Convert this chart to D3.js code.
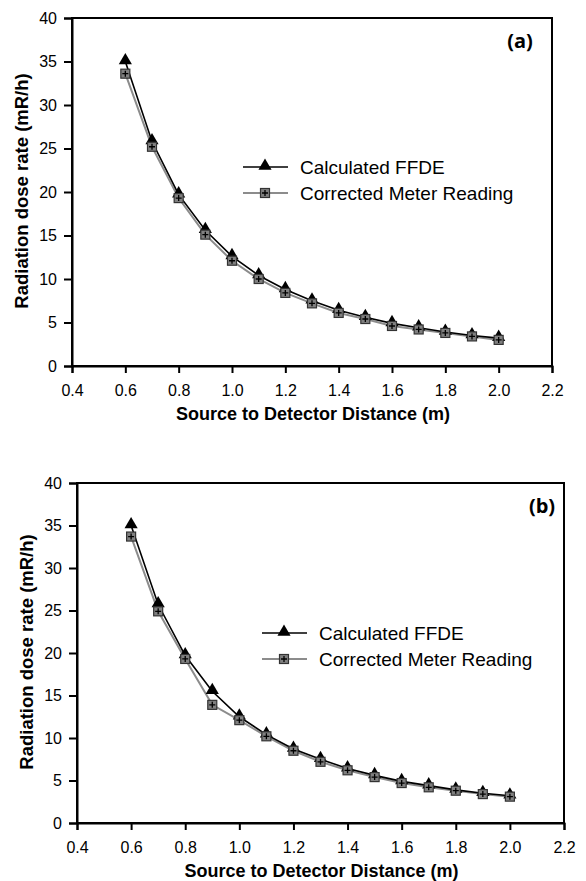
<!DOCTYPE html>
<meta charset='utf-8'>
<style>
  body { margin: 0; background: #fff; font-family: Arial, 'Liberation Sans', sans-serif; }
  .axisTitle { font-size: 18px; font-weight: bold; }
  .yTitle { font-size: 18.5px; font-weight: bold; }
  .legendText { font-size: 19px; }
  .panelLabel { font-size: 20px; font-weight: bold; font-family: 'Open Sans', Arial, sans-serif; }
</style>
<body>
<div id='viz'></div>
<script src='https://cdnjs.cloudflare.com/ajax/libs/d3/7.8.5/d3.min.js'></script>
<script>

// distances (m)
var distances = [0.6, 0.7, 0.8, 0.9, 1.0, 1.1, 1.2, 1.3, 1.4, 1.5, 1.6, 1.7, 1.8, 1.9, 2.0];

// panel (a)
var calcA = [35.0, 25.8, 19.7, 15.6, 12.6, 10.4, 8.8, 7.5, 6.4, 5.6, 4.9, 4.4, 3.9, 3.5, 3.2];
var corrA = [33.6, 25.2, 19.3, 15.1, 12.1, 10.0, 8.4, 7.2, 6.1, 5.4, 4.6, 4.2, 3.8, 3.4, 3.0];

// panel (b)
var calcB = [35.0, 25.7, 19.7, 15.5, 12.5, 10.4, 8.7, 7.5, 6.4, 5.6, 4.9, 4.4, 3.9, 3.5, 3.2];
var corrB = [33.7, 24.9, 19.3, 13.9, 12.1, 10.2, 8.5, 7.2, 6.2, 5.4, 4.7, 4.2, 3.8, 3.4, 3.1];

var xTicks = [0.4, 0.6, 0.8, 1.0, 1.2, 1.4, 1.6, 1.8, 2.0, 2.2];
var yTicks = [0, 5, 10, 15, 20, 25, 30, 35, 40];
var seriesNames = ['Calculated FFDE', 'Corrected Meter Reading'];

var svg = d3.select('#viz').append('svg')
    .attr('width', 586)
    .attr('height', 881);

function drawPanel(p) {
  var x = d3.scaleLinear().domain([0.4, 2.2]).range([p.left, p.right]);
  var y = d3.scaleLinear().domain([0, 40]).range([p.bottom, p.top]);
  var g = svg.append('g');

  // frame (top and right borders)
  g.append('rect')
    .attr('x', p.left).attr('y', p.top)
    .attr('width', p.right - p.left).attr('height', p.bottom - p.top)
    .attr('fill', 'none').attr('stroke', '#000').attr('stroke-width', 2);

  var ax = g.append('g')
    .attr('transform', 'translate(0,' + p.bottom + ')')
    .call(d3.axisBottom(x).tickValues(xTicks).tickFormat(d3.format('.1f')).tickSize(7).tickPadding(12));
  var ay = g.append('g')
    .attr('transform', 'translate(' + p.left + ',0)')
    .call(d3.axisLeft(y).tickValues(yTicks).tickSize(8).tickPadding(7));
  [ax, ay].forEach(function(a) {
    a.select('.domain').attr('stroke-width', 2);
    a.selectAll('.tick line').attr('stroke-width', 2);
    a.selectAll('.tick text')
      .style('font-family', 'Arial, sans-serif')
      .style('font-size', '16px')
      .attr('fill', '#000');
  });

  g.append('text').attr('class', 'axisTitle')
    .attr('x', (p.left + p.right) / 2 + 1).attr('y', p.bottom + 54)
    .attr('text-anchor', 'middle')
    .text('Source to Detector Distance (m)');
  g.append('text').attr('class', 'yTitle')
    .attr('transform', 'translate(' + (p.left - 44) + ',' + ((p.top + p.bottom) / 2 - 1) + ') rotate(-90)')
    .attr('text-anchor', 'middle')
    .text('Radiation dose rate (mR/h)');

  g.append('text').attr('class', 'panelLabel')
    .attr('x', p.labelX).attr('y', p.top + 30)
    .attr('text-anchor', 'middle')
    .text(p.label);

  var line = d3.line()
    .x(function(d) { return x(d[0]); })
    .y(function(d) { return y(d[1]); });

  var calc = distances.map(function(d, i) { return [d, p.calc[i]]; });
  var corr = distances.map(function(d, i) { return [d, p.corr[i]]; });

  g.append('path').datum(corr)
    .attr('fill', 'none').attr('stroke', '#8c8c8c').attr('stroke-width', 2)
    .attr('d', line);
  g.append('path').datum(calc)
    .attr('fill', 'none').attr('stroke', '#000').attr('stroke-width', 1.6)
    .attr('d', line);

  var tri = d3.symbol().type(d3.symbolTriangle).size(75);

  function triangle(sel, cx, cy) {
    sel.append('path').attr('d', tri)
      .attr('transform', 'translate(' + cx + ',' + (cy - 1) + ')')
      .attr('fill', '#000');
  }
  function square(sel, cx, cy) {
    sel.append('rect')
      .attr('x', cx - 4.5).attr('y', cy - 4.5).attr('width', 9).attr('height', 9)
      .attr('fill', '#808080').attr('stroke', '#333').attr('stroke-width', 1.2);
    sel.append('path')
      .attr('d', 'M' + (cx - 3) + ',' + cy + 'H' + (cx + 3) + 'M' + cx + ',' + (cy - 3) + 'V' + (cy + 3))
      .attr('stroke', '#000').attr('stroke-width', 1.3);
  }

  calc.forEach(function(d) { triangle(g, x(d[0]), y(d[1])); });
  corr.forEach(function(d) { square(g, x(d[0]), y(d[1])); });

  // legend
  var lg = g.append('g');
  lg.append('line').attr('x1', p.legX - 22).attr('x2', p.legX + 23)
    .attr('y1', p.legY).attr('y2', p.legY).attr('stroke', '#000').attr('stroke-width', 1.6);
  triangle(lg, p.legX, p.legY);
  lg.append('line').attr('x1', p.legX - 22).attr('x2', p.legX + 23)
    .attr('y1', p.legY + 26).attr('y2', p.legY + 26).attr('stroke', '#8c8c8c').attr('stroke-width', 2);
  square(lg, p.legX, p.legY + 26);
  seriesNames.forEach(function(n, i) {
    lg.append('text').attr('class', 'legendText')
      .attr('x', p.legX + 35).attr('y', p.legY + i * 26 + 7)
      .text(n);
  });
}

drawPanel({ left: 72, right: 552, top: 18, bottom: 366, calc: calcA, corr: corrA,
            label: '(a)', labelX: 520, legX: 265, legY: 167 });
drawPanel({ left: 77, right: 564, top: 483, bottom: 823, calc: calcB, corr: corrB,
            label: '(b)', labelX: 542, legX: 284, legY: 633 });

</script>
</body>
